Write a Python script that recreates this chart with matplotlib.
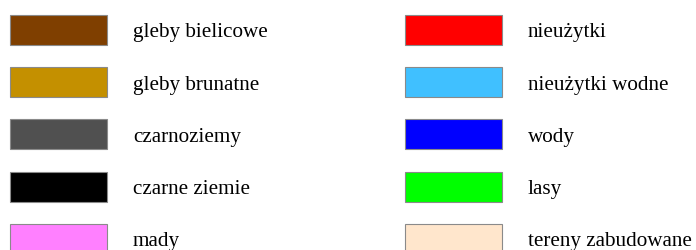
import matplotlib
matplotlib.use("Agg")
import matplotlib.pyplot as plt
from matplotlib.patches import Rectangle

# legend entries, left column then right column
left_labels = ["gleby bielicowe", "gleby brunatne", "czarnoziemy", "czarne ziemie", "mady"]
left_colors = ["#7F3F00", "#C49000", "#505050", "#000000", "#FF80FF"]
right_labels = ["nieużytki", "nieużytki wodne", "wody", "lasy", "tereny zabudowane"]
right_colors = ["#FF0000", "#40C0FF", "#0000FF", "#00FF00", "#FFE6CC"]

fig = plt.figure(figsize=(6.96, 2.5), dpi=100)
ax = fig.add_axes([0, 0, 1, 1])
ax.set_xlim(0, 696)
ax.set_ylim(250, 0)
ax.axis("off")

row_top = 15
row_step = 52.2
box_w, box_h = 97, 30

columns = [(left_labels, left_colors, 10, 133), (right_labels, right_colors, 405, 528)]
for labels, colors, bx, tx in columns:
    for i, (lab, col) in enumerate(zip(labels, colors)):
        y = row_top + i * row_step
        ax.add_patch(Rectangle((bx, y), box_w, box_h, facecolor=col,
                               edgecolor="#8a8a8a", linewidth=0.8))
        ax.text(tx, y + box_h / 2 + 3, lab, fontsize=15.2, family="Liberation Serif",
                va="center", ha="left", color="black")

fig.savefig("out.png", dpi=100)
